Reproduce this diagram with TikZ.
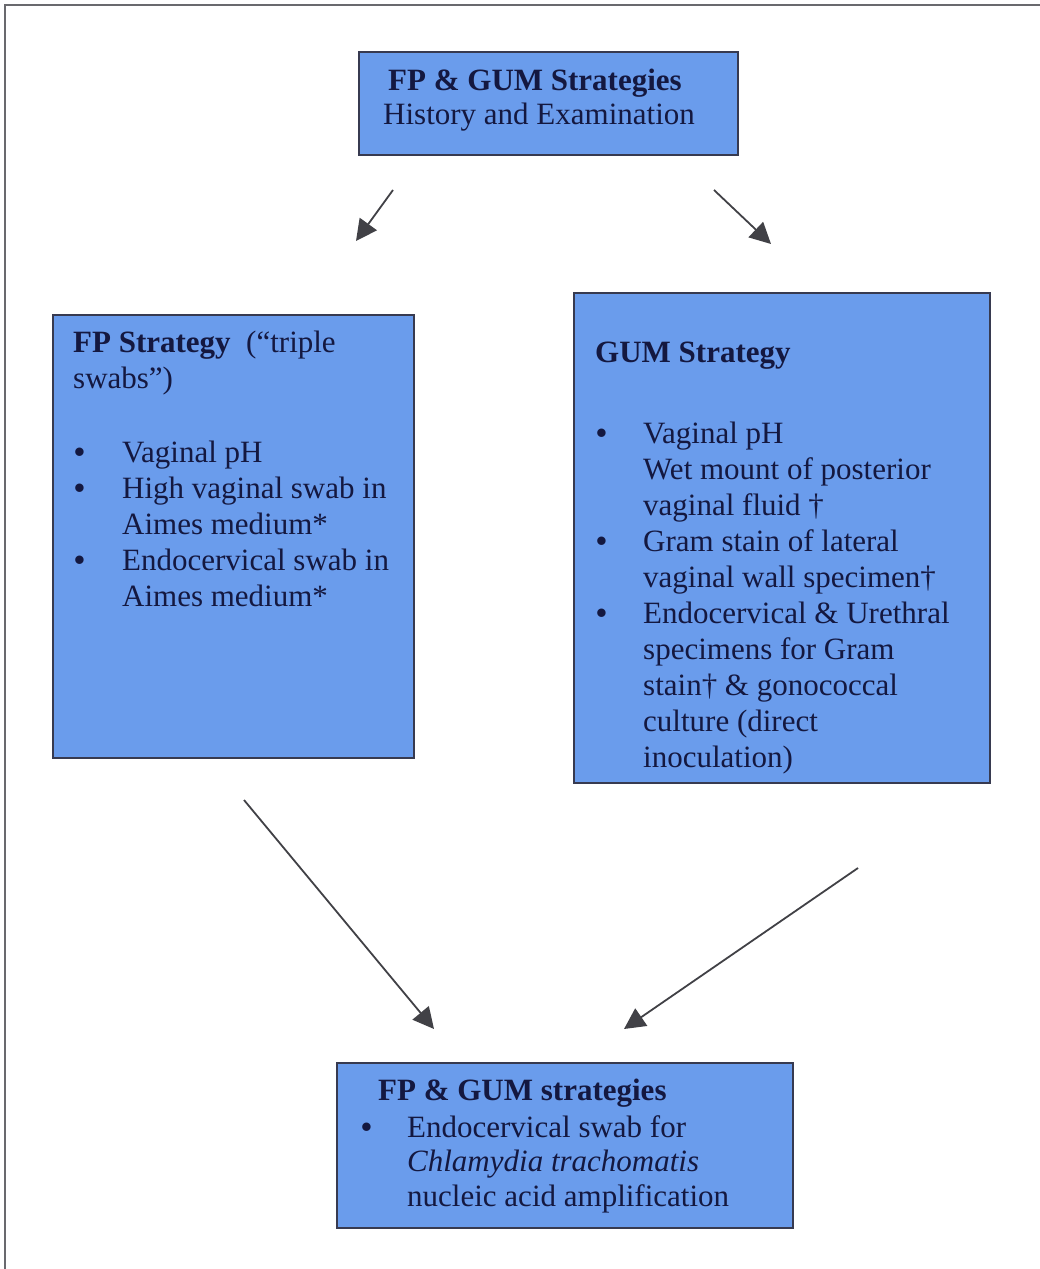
\documentclass[tikz,border=0pt]{standalone}
\usepackage{fontspec}
\setmainfont{Liberation Serif}
\usetikzlibrary{arrows.meta}
\definecolor{boxfill}{RGB}{106,156,236}
\definecolor{boxline}{RGB}{55,58,80}
\definecolor{txtcol}{RGB}{20,24,64}
\definecolor{arrcol}{RGB}{65,65,70}
\definecolor{framecol}{RGB}{105,105,110}
\tikzset{
  box/.style={draw=boxline, line width=1.6pt, fill=boxfill},
  txt/.style={inner sep=0pt, anchor=base west, text=txtcol,
    font=\fontsize{31}{36}\selectfont},
  conn/.style={draw=arrcol, line width=1.8pt,
    -{Triangle[length=21pt,width=21pt]}}
}
\newcommand\blt{\hspace{1pt}\textbf{\textbullet}}
\begin{document}
\begin{tikzpicture}[x=1pt,y=-1pt]
\useasboundingbox (0,0) rectangle (1040,1269);
% outer frame (only top and left edges visible)
\draw[framecol, line width=2.5pt] (5,1269) -- (5,5) -- (1040,5);

% boxes
\path[box] (359,52) rectangle (738,155);
\path[box] (53,315) rectangle (414,758);
\path[box] (574,293) rectangle (990,783);
\path[box] (337,1063) rectangle (793,1228);

% top box text
\node[txt] (toptxt) at (383,90) {\renewcommand\arraystretch{0.972}%
\begin{tabular}[t]{@{}l@{}}
\hspace{5pt}\textbf{FP \& GUM Strategies}\\
History and Examination
\end{tabular}};

% FP box text
\node[txt] (fptxt) at (73,352) {\begin{tabular}[t]{@{}p{49pt}@{}l@{}}
\multicolumn{2}{@{}l@{}}{\textbf{FP Strategy}\ \ (“triple}\\
\multicolumn{2}{@{}l@{}}{swabs”)}\\[38pt]
\blt & Vaginal pH\\
\blt & High vaginal swab in\\
 & Aimes medium*\\
\blt & Endocervical swab in\\
 & Aimes medium*
\end{tabular}};

% GUM box text
\node[txt] (gumtxt) at (595,362) {%
\begin{tabular}[t]{@{}p{48pt}@{}l@{}}
\multicolumn{2}{@{}l@{}}{\textbf{GUM Strategy}}\\[45pt]
\blt & Vaginal pH\\
 & Wet mount of posterior\\
 & vaginal fluid †\\
\blt & Gram stain of lateral\\
 & vaginal wall specimen†\\
\blt & Endocervical \& Urethral\\
 & specimens for Gram\\
 & stain† \& gonococcal\\
 & culture (direct\\
 & inoculation)
\end{tabular}};

% bottom box text
\node[txt] (bottxt) at (360,1100) {\renewcommand\arraystretch{0.972}%
\begin{tabular}[t]{@{}p{47pt}@{}l@{}}
\multicolumn{2}{@{}l@{}}{\hspace{18pt}\textbf{FP \& GUM strategies}}\\[2pt]
\blt & Endocervical swab for\\
 & \textit{Chlamydia trachomatis}\\
 & nucleic acid amplification
\end{tabular}};

% arrow end points
\coordinate (a1s) at (393,190);
\coordinate (a1e) at (356,241);
\coordinate (a2s) at (714,190);
\coordinate (a2e) at (771,244);
\coordinate (a3s) at (244,800);
\coordinate (a3e) at (434,1029);
\coordinate (a4s) at (858,868);
\coordinate (a4e) at (624,1029);

\draw[conn] (a1s) -- (a1e);
\draw[conn] (a2s) -- (a2e);
\draw[conn] (a3s) -- (a3e);
\draw[conn] (a4s) -- (a4e);
\end{tikzpicture}
\end{document}
